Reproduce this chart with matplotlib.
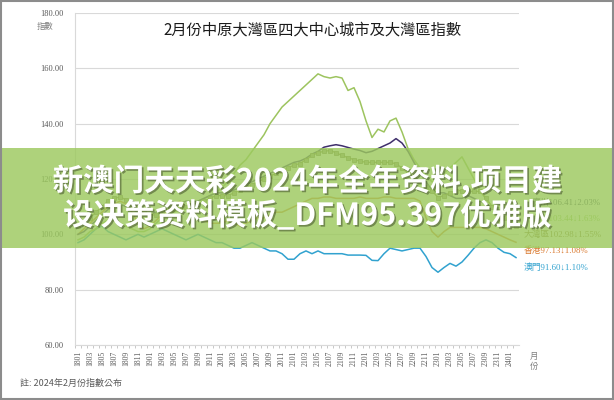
import matplotlib
matplotlib.use("Agg")
import matplotlib.pyplot as plt
import matplotlib.patheffects as pe
from matplotlib.patches import Rectangle

plt.rcParams['font.family'] = ['Noto Sans CJK TC', 'DejaVu Sans']

# months 2018-01 .. 2024-02
months = [f"{y:02d}{m:02d}" for y in range(18, 25) for m in range(1, 13)][:74]

guangzhou = [100, 101, 103, 105, 107, 109, 110, 111, 110, 109, 108, 107,
             107, 108, 109, 110, 110, 111, 112, 112, 112, 113, 114, 115,
             115, 115, 116, 117, 118, 119, 120, 121, 122, 123, 124, 125,
             126, 126.5, 127.5, 129, 130, 131.5, 132, 132.4, 132, 131.4, 130.8, 130.3,
             129.5, 130, 131, 132, 133, 134.6, 133, 130, 126, 122, 119, 116,
             115, 115, 114, 113, 113, 114, 113, 112, 111, 110, 109, 108, 107.5, 106.41]
shenzhen = [98, 99, 101, 102, 104, 105, 105, 104, 103, 102, 101, 101,
            102, 104, 106, 107, 108, 109, 110, 110, 112, 113, 114, 115,
            117, 119, 122, 125, 127, 130, 133, 136, 140, 143, 146, 148,
            150, 152, 154, 156, 158, 157, 156.5, 157, 156.5, 152, 153, 148,
            141, 135, 138, 137, 141, 142, 137, 131, 127, 124, 121, 119,
            120, 122, 124, 126, 128, 124, 120, 116, 113, 110, 108, 106, 104.5, 103.44]
gba = [103, 104, 106, 108, 110, 112, 113, 113.5, 112.5, 111, 110, 108,
       107, 107, 108, 109, 109, 110, 110, 111, 111, 112, 113, 114,
       114, 114, 115, 116, 117, 118, 119, 120, 121, 122, 123, 124,
       125, 125.6, 127, 128.5, 129.5, 130, 130.3, 129.5, 128.5, 127.7, 127, 126.5,
       126, 126, 126, 126, 126, 125.5, 124, 122, 121, 119, 117, 115.8,
       113.3, 114, 115, 115.8, 115.8, 115.5, 115.5, 115.5, 113, 110, 108, 106, 104.5, 102.98]
hongkong = [100, 102, 104, 106, 108, 110, 111, 112, 111, 108, 104, 102,
            103, 105, 107, 109, 111, 112, 110, 108, 106, 105, 104, 104,
            104, 105, 104, 103, 104, 105, 106, 106, 107, 108, 108, 109,
            110, 111, 112, 113, 113, 113.5, 113.5, 113, 113, 113, 113, 113.5,
            113, 113, 113, 113.5, 113.5, 113, 113, 113, 113, 112, 106, 101,
            99, 101, 102.5, 102.5, 102.5, 102.5, 102.5, 102.5, 102, 101, 100, 99, 98, 97.13]
macau = [97, 98, 100, 102, 103, 101, 100, 99, 98, 99, 100, 99,
         100, 101, 102, 101, 100, 99, 98, 99, 100, 99, 98, 97,
         97, 96, 95, 95, 96, 97, 96, 95, 94, 94, 93, 91,
         91, 93, 94, 93, 94, 93, 93, 93, 93, 92.5, 92.5, 92.5,
         92.4, 90.6, 90.5, 93, 95, 94.5, 94, 94.5, 95, 95, 92, 88,
         86.3, 88, 89.5, 88.5, 90, 92.4, 95, 97, 98, 97, 95, 93.5, 93, 91.6]

end_labels = ["廣州106.41↓2.03%", "深圳103.44↓1.63%", "大灣區102.98↓1.55%",
              "香港97.13↓1.08%", "澳門91.60↓1.10%"]

fig = plt.figure(figsize=(6.14, 4.0), dpi=100)
ax = fig.add_axes([75 / 614, 55 / 400, 444 / 614, 332 / 400])

x = list(range(len(months)))
ax.plot(x, hongkong, color='#D98B3A', lw=1.1, zorder=3)
ax.plot(x, macau, color='#31A2CF', lw=1.1, zorder=3)
ax.plot(x, shenzhen, color='#9DC45F', lw=1.1, zorder=3)
ax.plot(x, guangzhou, color='#3F2F6B', lw=1.1, zorder=3)
ax.plot(x, gba, color='#8C8C4A', lw=1.0, marker='s', ms=2.8,
        mfc='#A3A382', mec='#6E6E3C', mew=0.5, zorder=4)

ax.set_xlim(-0.5, len(months) - 0.5)
ax.set_ylim(60, 180)
ax.set_yticks(range(60, 181, 20))
ax.set_yticklabels([f"{v:.2f}" for v in range(60, 181, 20)],
                   fontsize=6, color='#595959', family=['Liberation Serif', 'DejaVu Sans'])
ax.grid(axis='y', color='#D9D9D9', lw=0.8)
ax.set_axisbelow(True)
ax.set_xticks(x[::2])
ax.set_xticklabels(months[::2], rotation=90, fontsize=5.5, color='#595959',
                   family=['Liberation Serif', 'DejaVu Sans'])
ax.set_xticks([i - 0.5 for i in x], minor=True)
ax.tick_params(axis='x', which='major', length=0, pad=4)
ax.tick_params(axis='x', which='minor', length=2, color='#BFBFBF')
ax.tick_params(axis='y', length=0, pad=8)
for s in ['top', 'right']:
    ax.spines[s].set_visible(False)
ax.spines['left'].set_color('#D9D9D9')
ax.spines['bottom'].set_color('#D9D9D9')

fig.text(45 / 614, 1 - 27 / 400, "指數", fontsize=6, color='#7F7F7F', ha='center', va='center')
fig.text(313 / 614, 1 - 30 / 400, "2月份中原大灣區四大中心城市及大灣區指數",
         fontsize=11, fontweight='medium', ha='center', va='center', color='#1A1A1A')
fig.text(534 / 614, 1 - 356 / 400, "月", fontsize=6, color='#7F7F7F', ha='center', va='center')
fig.text(534 / 614, 1 - 366 / 400, "份", fontsize=6, color='#7F7F7F', ha='center', va='center')
fig.text(20 / 614, 1 - 383 / 400, "註: 2024年2月份指數公布", fontsize=6.5, color='#595959',
         ha='left', va='center')

label_colors = ['#3F3F5F', '#9DC45F', '#8C7A3C', '#D9782D', '#31A2CF']
label_y = [203, 219, 235, 251, 268]
label_x = [532, 532, 524, 524, 524]
for txt, c, ly, lx in zip(end_labels, label_colors, label_y, label_x):
    fig.text(lx / 614, 1 - ly / 400, txt, fontsize=6.3, color=c, ha='left', va='center',
             family=['Liberation Serif', 'Noto Sans CJK TC', 'DejaVu Sans'])

# overlay banner
fig.patches.append(Rectangle((0, 1 - 248 / 400), 1, 100 / 400, transform=fig.transFigure,
                             facecolor='#9CC95E', alpha=0.82, edgecolor='none', zorder=10))
shadow = [pe.withSimplePatchShadow(offset=(1.2, -1.2), shadow_rgbFace='#4A5A30', alpha=0.6)]
fig.text(0.5, 1 - 181 / 400, "新澳门天天彩2024年全年资料,项目建", fontsize=22, fontweight='bold',
         color='white', ha='center', va='center', zorder=11, path_effects=shadow,
         family=['Noto Sans CJK SC', 'DejaVu Sans'])
fig.text(0.5, 1 - 216 / 400, "设决策资料模板_DFM95.397优雅版", fontsize=22, fontweight='bold',
         color='white', ha='center', va='center', zorder=11, path_effects=shadow,
         family=['Noto Sans CJK SC', 'DejaVu Sans'])

# outer frame
fig.patches.append(Rectangle((0.001, 0.002), 0.997, 0.996, transform=fig.transFigure,
                             facecolor='none', edgecolor='#8C8C8C', lw=1.5, zorder=12))

fig.savefig("out.png", dpi=100)
